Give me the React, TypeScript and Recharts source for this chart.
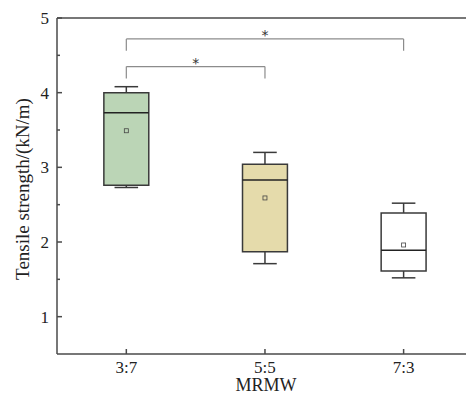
import React from "react";
import {
  ComposedChart,
  XAxis,
  YAxis,
  Scatter,
  ReferenceArea,
  ReferenceLine,
  Label,
} from "recharts";

// box statistics per MRMW ratio
const categories = ["3:7", "5:5", "7:3"];
const whiskerLow = [2.73, 1.71, 1.52];
const q1 = [2.76, 1.87, 1.61];
const medians = [3.73, 2.83, 1.89];
const q3 = [4.0, 3.04, 2.39];
const whiskerHigh = [4.08, 3.2, 2.52];
const means = [3.49, 2.59, 1.96];

const yTicks = [1, 1.5, 2, 2.5, 3, 3.5, 4, 4.5, 5];

// significance brackets
const sigPairs = [
  [1, 2],
  [1, 3],
];
const sigLevels = [4.35, 4.72];
const sigLabels = ["*", "*"];

const boxFills = ["#bbd5b6", "#e5dbab", "#ffffff"];
const FONT = "'Liberation Serif', 'Times New Roman', serif";
const AXIS = "#4a4a4a";
const BOX = "#3a3a3a";
const BRACKET = "#8c8c8c";
const BOX_HALF = 0.162;
const CAP_HALF = 0.085;
const DROP = 0.16;

const meanData = means.map((m, i) => ({ x: i + 1, y: m }));
const starData = sigPairs.map(([a, b], i) => ({
  x: (a + b) / 2,
  y: sigLevels[i] + 0.09,
  label: sigLabels[i],
}));

const YTick = (props: any) => {
  const { x, y, payload } = props;
  const major = Number.isInteger(payload.value);
  const ax = x + 8;
  return (
    <g>
      <line x1={ax} x2={ax + (major ? 5 : 3)} y1={y} y2={y} stroke={AXIS} strokeWidth={1.5} />
      {major && (
        <text x={x} y={y} dy="0.35em" textAnchor="end" fontFamily={FONT} fontSize={17} fill="#222">
          {payload.value}
        </text>
      )}
    </g>
  );
};

const XTick = (props: any) => {
  const { x, y, payload } = props;
  const ay = y - 7;
  return (
    <g>
      <line x1={x} x2={x} y1={ay} y2={ay - 5} stroke={AXIS} strokeWidth={1.5} />
      <text x={x} y={y} dy="0.7em" textAnchor="middle" fontFamily={FONT} fontSize={17} fill="#222">
        {categories[payload.value - 1]}
      </text>
    </g>
  );
};

const MeanMark = (props: any) => {
  const { cx, cy } = props;
  return <rect x={cx - 2} y={cy - 2} width={4} height={4} fill="none" stroke="#444" strokeWidth={0.8} />;
};

const Star = (props: any) => {
  const { cx, cy, payload } = props;
  return (
    <text x={cx} y={cy} dy="0.55em" textAnchor="middle" fontFamily="'DejaVu Sans', sans-serif" fontSize={14} fill="#333" stroke="none">
      {payload.label}
    </text>
  );
};

export default function App() {
  return (
    <div style={{ position: "absolute", left: 0, top: 0, background: "#fff" }}>
      <ComposedChart width={467} height={397} margin={{ top: 18, right: 1, left: 0, bottom: 0 }}>
        <XAxis
          type="number"
          dataKey="x"
          domain={[0.5, 3.45]}
          ticks={[1, 2, 3]}
          height={43}
          tickSize={0}
          tickMargin={7}
          tickLine={false}
          tick={<XTick />}
          axisLine={{ stroke: AXIS, strokeWidth: 1.5 }}
          allowDataOverflow
        >
          <Label
            content={() => (
              <text x={266} y={385} dy="0.35em" textAnchor="middle" fontFamily={FONT} fontSize={18} fill="#222">
                MRMW
              </text>
            )}
          />
        </XAxis>
        <YAxis
          type="number"
          dataKey="y"
          domain={[0.5, 5]}
          ticks={yTicks}
          width={57}
          tickSize={0}
          tickMargin={8}
          tickLine={false}
          tick={<YTick />}
          axisLine={{ stroke: AXIS, strokeWidth: 1.5 }}
          allowDataOverflow
        >
          <Label
            content={() => (
              <text
                x={22}
                y={189}
                dy="0.35em"
                textAnchor="middle"
                transform="rotate(-90, 22, 189)"
                fontFamily={FONT}
                fontSize={19}
                fill="#222"
              >
                Tensile strength/(kN/m)
              </text>
            )}
          />
        </YAxis>

        <ReferenceLine y={5} stroke={AXIS} strokeWidth={1.5} />

        {categories.map((c, i) => (
          <ReferenceLine
            key={`stem-hi-${c}`}
            segment={[
              { x: i + 1, y: q3[i] },
              { x: i + 1, y: whiskerHigh[i] },
            ]}
            stroke={BOX}
            strokeWidth={1.5}
          />
        ))}
        {categories.map((c, i) => (
          <ReferenceLine
            key={`stem-lo-${c}`}
            segment={[
              { x: i + 1, y: q1[i] },
              { x: i + 1, y: whiskerLow[i] },
            ]}
            stroke={BOX}
            strokeWidth={1.5}
          />
        ))}
        {categories.map((c, i) => (
          <ReferenceLine
            key={`cap-hi-${c}`}
            segment={[
              { x: i + 1 - CAP_HALF, y: whiskerHigh[i] },
              { x: i + 1 + CAP_HALF, y: whiskerHigh[i] },
            ]}
            stroke={BOX}
            strokeWidth={1.5}
          />
        ))}
        {categories.map((c, i) => (
          <ReferenceLine
            key={`cap-lo-${c}`}
            segment={[
              { x: i + 1 - CAP_HALF, y: whiskerLow[i] },
              { x: i + 1 + CAP_HALF, y: whiskerLow[i] },
            ]}
            stroke={BOX}
            strokeWidth={1.5}
          />
        ))}
        {categories.map((c, i) => (
          <ReferenceArea
            key={`box-${c}`}
            x1={i + 1 - BOX_HALF}
            x2={i + 1 + BOX_HALF}
            y1={q1[i]}
            y2={q3[i]}
            fill={boxFills[i]}
            fillOpacity={1}
            stroke={BOX}
            strokeWidth={1.5}
          />
        ))}
        {categories.map((c, i) => (
          <ReferenceLine
            key={`median-${c}`}
            segment={[
              { x: i + 1 - BOX_HALF, y: medians[i] },
              { x: i + 1 + BOX_HALF, y: medians[i] },
            ]}
            stroke="#222"
            strokeWidth={1.5}
          />
        ))}

        {sigPairs.map(([a, b], i) => (
          <ReferenceLine
            key={`sig-h-${i}`}
            segment={[
              { x: a, y: sigLevels[i] },
              { x: b, y: sigLevels[i] },
            ]}
            stroke={BRACKET}
            strokeWidth={1.2}
          />
        ))}
        {sigPairs.map(([a], i) => (
          <ReferenceLine
            key={`sig-l-${i}`}
            segment={[
              { x: a, y: sigLevels[i] - DROP },
              { x: a, y: sigLevels[i] },
            ]}
            stroke={BRACKET}
            strokeWidth={1.2}
          />
        ))}
        {sigPairs.map(([, b], i) => (
          <ReferenceLine
            key={`sig-r-${i}`}
            segment={[
              { x: b, y: sigLevels[i] },
              { x: b, y: sigLevels[i] - DROP },
            ]}
            stroke={BRACKET}
            strokeWidth={1.2}
          />
        ))}

        <Scatter data={meanData} shape={<MeanMark />} isAnimationActive={false} />
        <Scatter data={starData} shape={<Star />} isAnimationActive={false} />
      </ComposedChart>
    </div>
  );
}
